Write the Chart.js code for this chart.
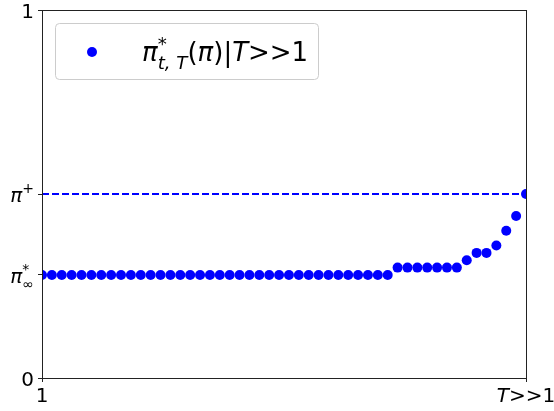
<!DOCTYPE html>
<html>
<head>
<meta charset="utf-8">
<script src="https://cdn.jsdelivr.net/npm/chart.js@4/dist/chart.umd.min.js"></script>
<style>
  html, body { margin: 0; padding: 0; background: #fff; }
  #chart { display: block; }
</style>
</head>
<body>
<canvas id="chart" width="554" height="411"></canvas>
<script>
// time steps t = 1 .. T (T>>1)
const timeSteps = [
  1, 2, 3, 4, 5, 6, 7, 8, 9, 10,
  11, 12, 13, 14, 15, 16, 17, 18, 19, 20,
  21, 22, 23, 24, 25, 26, 27, 28, 29, 30,
  31, 32, 33, 34, 35, 36, 37, 38, 39, 40,
  41, 42, 43, 44, 45, 46, 47, 48, 49, 50
];
// optimal policy pi*_{t,T}(pi)
const policyValues = [
  0.28, 0.28, 0.28, 0.28, 0.28, 0.28, 0.28, 0.28, 0.28, 0.28,
  0.28, 0.28, 0.28, 0.28, 0.28, 0.28, 0.28, 0.28, 0.28, 0.28,
  0.28, 0.28, 0.28, 0.28, 0.28, 0.28, 0.28, 0.28, 0.28, 0.28,
  0.28, 0.28, 0.28, 0.28, 0.28, 0.28, 0.30, 0.30, 0.30, 0.30,
  0.30, 0.30, 0.30, 0.32, 0.34, 0.34, 0.36, 0.40, 0.44, 0.50
];
const piPlus = 0.5;
const piInf = 0.28;

const xTickValues = [1, 50];
const yTickValues = [0, piInf, piPlus, 1];

// labels written as pieces: base text, optional sup / sub
const xTickLabels = [
  [{ t: '1' }],
  [{ t: 'T', it: true }, { t: '>>1' }]
];
const yTickLabels = [
  [{ t: '0' }],
  [{ t: 'π', it: true, sup: '*', sub: '∞' }],
  [{ t: 'π', it: true, sup: '+' }],
  [{ t: '1' }]
];
const legendLabel = [
  { t: 'π', it: true, sup: '*', sub: 't, T', subIt: true },
  { t: '(' }, { t: 'π', it: true }, { t: ')|' }, { t: 'T', it: true }, { t: '>>1' }
];

const BLUE = '#0000ff';
const FONT = '"DejaVu Sans", sans-serif';

function setFont(ctx, size, italic) {
  ctx.font = (italic ? 'italic ' : '') + size + 'px ' + FONT;
}

function mathWidth(ctx, parts, size) {
  let w = 0;
  parts.forEach(p => {
    setFont(ctx, size, p.it);
    w += ctx.measureText(p.t).width;
    let s = 0;
    if (p.sup) { setFont(ctx, size * 0.7, false); s = Math.max(s, ctx.measureText(p.sup).width); }
    if (p.sub) { setFont(ctx, size * 0.7, p.subIt); s = Math.max(s, ctx.measureText(p.sub).width); }
    w += s;
  });
  return w;
}

function drawMath(ctx, parts, x, baseline, size, align) {
  let cx = x;
  const w = mathWidth(ctx, parts, size);
  if (align === 'center') cx = x - w / 2;
  if (align === 'right') cx = x - w;
  ctx.textAlign = 'left';
  ctx.textBaseline = 'alphabetic';
  ctx.fillStyle = '#000';
  parts.forEach(p => {
    setFont(ctx, size, p.it);
    ctx.fillText(p.t, cx, baseline);
    cx += ctx.measureText(p.t).width;
    let s = 0;
    if (p.sup) {
      setFont(ctx, size * 0.7, false);
      ctx.fillText(p.sup, cx, baseline - size * 0.42);
      s = Math.max(s, ctx.measureText(p.sup).width);
    }
    if (p.sub) {
      setFont(ctx, size * 0.7, p.subIt);
      ctx.fillText(p.sub, cx, baseline + size * 0.3);
      s = Math.max(s, ctx.measureText(p.sub).width);
    }
    cx += s;
  });
}

// frame, tick labels and legend in matplotlib style
const mplDecor = {
  id: 'mplDecor',
  afterDraw(chart) {
    const { ctx, chartArea, scales } = chart;
    ctx.save();
    ctx.strokeStyle = '#222';
    ctx.lineWidth = 1;
    ctx.strokeRect(chartArea.left + 0.5, chartArea.top + 0.5,
      chartArea.right - chartArea.left, chartArea.bottom - chartArea.top);

    yTickValues.forEach((v, i) => {
      const py = scales.y.getPixelForValue(v);
      drawMath(ctx, yTickLabels[i], chartArea.left - 8, py + 7.7, 20, 'right');
    });
    xTickValues.forEach((v, i) => {
      const px = scales.x.getPixelForValue(v);
      drawMath(ctx, xTickLabels[i], px, chartArea.bottom + 24, 20, 'center');
    });

    // legend box
    const bx = 55, by = 23, bw = 263, bh = 56;
    ctx.beginPath();
    ctx.roundRect(bx + 0.5, by + 0.5, bw, bh, 4);
    ctx.fillStyle = 'rgba(255,255,255,0.8)';
    ctx.fill();
    ctx.strokeStyle = '#cccccc';
    ctx.stroke();
    ctx.beginPath();
    ctx.arc(92, 52, 5, 0, Math.PI * 2);
    ctx.fillStyle = BLUE;
    ctx.fill();
    drawMath(ctx, legendLabel, 142, 61, 26, 'left');
    ctx.restore();
  }
};

const policyPoints = timeSteps.map((t, i) => ({ x: t, y: policyValues[i] }));
const firstT = timeSteps[0];
const lastT = timeSteps[timeSteps.length - 1];

new Chart(document.getElementById('chart'), {
  type: 'scatter',
  data: {
    datasets: [
      {
        label: 'pi plus',
        type: 'line',
        data: [{ x: firstT, y: piPlus }, { x: lastT, y: piPlus }],
        borderColor: BLUE,
        borderWidth: 2,
        borderDash: [7, 3],
        pointRadius: 0,
        clip: 0
      },
      {
        label: 'pi*_{t,T}(pi)|T>>1',
        data: policyPoints,
        backgroundColor: BLUE,
        borderColor: BLUE,
        borderWidth: 0,
        pointRadius: 5,
        clip: 0
      }
    ]
  },
  options: {
    responsive: false,
    animation: false,
    layout: { padding: { left: 38, top: 10, right: 28, bottom: 29 } },
    plugins: {
      legend: { display: false },
      tooltip: { enabled: false }
    },
    scales: {
      x: {
        type: 'linear',
        min: firstT,
        max: lastT,
        afterBuildTicks: scale => { scale.ticks = xTickValues.map(v => ({ value: v })); },
        ticks: { display: false },
        grid: { drawOnChartArea: false, drawTicks: true, tickLength: 4, color: '#222' },
        border: { color: '#222', width: 1 }
      },
      y: {
        type: 'linear',
        min: 0,
        max: 1,
        afterBuildTicks: scale => { scale.ticks = yTickValues.map(v => ({ value: v })); },
        ticks: { display: false },
        grid: { drawOnChartArea: false, drawTicks: true, tickLength: 4, color: '#222' },
        border: { color: '#222', width: 1 }
      }
    }
  },
  plugins: [mplDecor]
});
</script>
</body>
</html>
